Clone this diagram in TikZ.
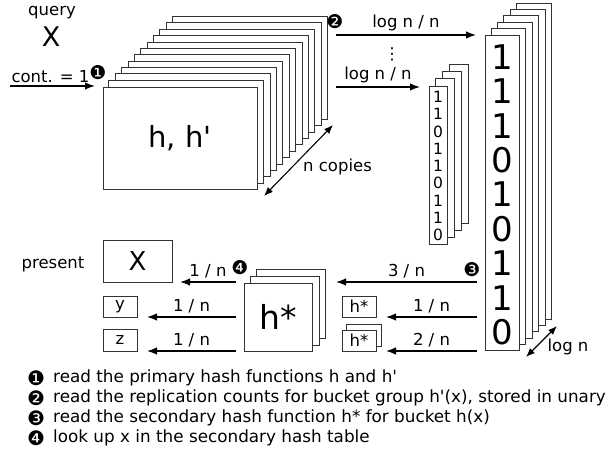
\documentclass[tikz,border=0pt]{standalone}
\usepackage{fontspec}
\setmainfont{DejaVu Sans}
\usetikzlibrary{arrows.meta,calc,backgrounds}

\tikzset{
  sheet/.style={draw=black!80,line width=.9pt,fill=white},
  flow/.style={line width=1.4pt,-{Latex[length=10pt,width=7.5pt]}},
  twoway/.style={line width=1.1pt,{Latex[length=9pt,width=7pt]}-{Latex[length=9pt,width=7pt]}},
  lbl/.style={font=\fontsize{16.5}{18}\selectfont},
  dot/.style={font=\fontsize{19}{21}\selectfont,inner sep=0pt},
  legdot/.style={font=\fontsize{20}{20}\selectfont,inner sep=0pt},
  legtext/.style={font=\fontsize{16.8}{18}\selectfont,inner sep=0pt,anchor=west},
}
\newcommand{\Copies}[4]{%
  \begin{pgfonlayer}{background}
    \foreach \i in {#2,...,1}
      \draw[sheet] ($(#1.south west)+(\i*#3,-\i*#4)$) rectangle ($(#1.north east)+(\i*#3,-\i*#4)$);
  \end{pgfonlayer}}

\begin{document}
\begin{tikzpicture}[x=1pt,y=-1pt]
\useasboundingbox (0,0) rectangle (613,454);

% query
\node[lbl] (qry) at (52,13) {query};
\node[font=\fontsize{27}{29}\selectfont] (qx) at (51,37) {X};
\coordinate (in) at (10,86);
\coordinate (inend) at (95,86);
\draw[flow] (in) -- (inend) node[lbl,midway,above=-1pt,xshift=-2pt] (cont) {cont. = 1};
\node[dot] (m1) at (98,73) {❶};

% primary hash functions, n copies
\node[sheet,minimum width=154pt,minimum height=102pt,inner sep=0pt,
  font=\fontsize{29}{31}\selectfont] (hh) at (180,138) {h, h\textquotesingle};
\Copies{hh}{11}{6.36}{6.36}
\coordinate (nc1) at (264,196);
\coordinate (nc2) at (333,125);
\draw[twoway] (nc1) -- (nc2);
\node[lbl,anchor=west,inner sep=0pt] (ncp) at (303,167) {n copies};

% replication counts
\node[dot] (m2) at (335,22) {❷};
\coordinate (a1) at (336,35);
\coordinate (a1end) at (476,35);
\draw[flow] (a1) -- (a1end) node[lbl,midway,above] {log n / n};
\node[lbl] (vdots) at (392,54) {⋮};
\coordinate (a2) at (336,87);
\coordinate (a2end) at (420,87);
\draw[flow] (a2) -- (a2end) node[lbl,midway,above] {log n / n};

\node[sheet,minimum width=18pt,minimum height=158pt,inner sep=0pt] (small) at (438,165) {};
\Copies{small}{3}{7}{7}
\foreach \d [count=\k from 0] in {1,1,0,1,1,0,1,1,0}
  \node[font=\fontsize{15.5}{17}\selectfont,inner sep=0pt] (s\k) at (438,97+\k*17.25) {\d};

\node[sheet,minimum width=34pt,minimum height=315pt,inner sep=0pt] (big) at (502,192.5) {};
\Copies{big}{5}{6.4}{6.2}
\foreach \d [count=\k from 0] in {1,1,1,0,1,0,1,1,0}
  \node[font=\fontsize{34}{36}\selectfont,inner sep=0pt] (b\k) at (502,57+\k*34.4) {\d};
\coordinate (ln1) at (526,357);
\coordinate (ln2) at (557,326);
\draw[twoway] (ln1) -- (ln2);
\node[lbl] (logn) at (568,347) {log n};

% secondary hash function
\node[dot] (m3) at (472,270) {❸};
\node[sheet,minimum width=68pt,minimum height=68pt,inner sep=0pt,
  font=\fontsize{33}{35}\selectfont] (hs) at (278,317) {h*};
\Copies{hs}{2}{6.5}{6.5}
\node[sheet,minimum width=34pt,minimum height=21pt,inner sep=0pt,lbl] (hs1) at (359,306.5) {h*};
\node[sheet,minimum width=34pt,minimum height=21pt,inner sep=0pt,lbl] (hs2) at (359,340.5) {h*};
\Copies{hs2}{1}{5}{5}
\coordinate (c3) at (477,282);
\coordinate (c3end) at (336,282);
\coordinate (c1) at (477,317);
\coordinate (c1end) at (386,317);
\coordinate (c2) at (477,351);
\coordinate (c2end) at (386,351);
\draw[flow] (c3) -- (c3end) node[lbl,midway,above] {3 / n};
\draw[flow] (c1) -- (c1end) node[lbl,midway,above] {1 / n};
\draw[flow] (c2) -- (c2end) node[lbl,midway,above] {2 / n};

% secondary table
\node[dot] (m4) at (240,268) {❹};
\node[sheet,minimum width=69pt,minimum height=42pt,inner sep=0pt,
  font=\fontsize{26}{28}\selectfont] (tx) at (137.5,261) {X};
\node[lbl] (pres) at (53,264) {present};
\node[sheet,minimum width=34pt,minimum height=21pt,inner sep=0pt,lbl] (ty) at (120,306.5) {y};
\node[sheet,minimum width=34pt,minimum height=22pt,inner sep=0pt,lbl] (tz) at (120,340) {z};
\coordinate (t1) at (236,282);
\coordinate (t1end) at (180,282);
\coordinate (t2) at (236,317);
\coordinate (t2end) at (147,317);
\coordinate (t3) at (236,351);
\coordinate (t3end) at (147,351);
\draw[flow] (t1) -- (t1end) node[lbl,midway,above] {1 / n};
\draw[flow] (t2) -- (t2end) node[lbl,midway,above] {1 / n};
\draw[flow] (t3) -- (t3end) node[lbl,midway,above] {1 / n};

% legend
\node[legdot] (k1) at (36,378) {❶};
\node[legdot] (k2) at (36,398) {❷};
\node[legdot] (k3) at (36,418) {❸};
\node[legdot] (k4) at (36,438) {❹};
\node[legtext] (l1) at (53,378) {read the primary hash functions h and h\textquotesingle};
\node[legtext] (l2) at (53,398) {read the replication counts for bucket group h\textquotesingle(x), stored in unary};
\node[legtext] (l3) at (53,418) {read the secondary hash function h* for bucket h(x)};
\node[legtext] (l4) at (53,438) {look up x in the secondary hash table};
\end{tikzpicture}
\end{document}
